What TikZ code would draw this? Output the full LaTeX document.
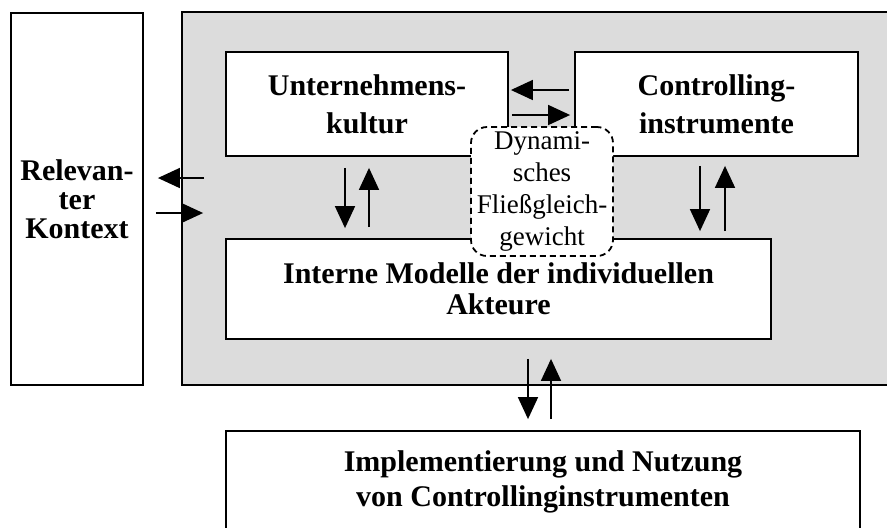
\documentclass[tikz,border=0pt]{standalone}
\usepackage{fontspec}
\setmainfont{Liberation Serif}
\usetikzlibrary{arrows.meta}
\definecolor{boxgray}{RGB}{220,220,220}

\begin{document}
\begin{tikzpicture}[x=0.5pt,y=-0.5pt]
\tikzset{box/.style = {draw,line width=0.9pt,fill=white,inner sep=0pt,align=center,font=\bfseries\fontsize{15}{19}\selectfont}}
\tikzset{balance/.style = {draw,dash pattern=on 3pt off 2pt,line width=0.9pt,fill=white,rounded corners=8pt,inner sep=0pt,align=center,font=\fontsize{13.5}{16}\selectfont}}
\tikzset{arr/.style = {-{Triangle[length=11pt,width=10pt]},line width=0.8pt}}
\useasboundingbox (0,0) rectangle (887,527);
\clip (0,0) rectangle (887,527);
\node[box,fill=boxgray,minimum width=359pt,minimum height=186.5pt](system) at (541,198.5) {};
\node[box,minimum width=66pt,minimum height=186pt,font=\bfseries\fontsize{15}{14.5}\selectfont](kontext) at (77,199) {Relevan-\\ter\\Kontext};
\node[box,minimum width=141pt,minimum height=52pt](kultur) at (367,104) {Unternehmens-\\kultur};
\node[box,minimum width=141.5pt,minimum height=52pt](ctrl) at (716.5,104) {Controlling-\\instrumente};
\node[box,minimum width=272.5pt,minimum height=50pt,font=\bfseries\fontsize{15}{15.5}\selectfont](modelle) at (498.5,289) {Interne Modelle der individuellen\\Akteure};
\node[box,minimum width=317pt,minimum height=51pt,font=\bfseries\fontsize{15}{17.5}\selectfont](impl) at (543,482) {Implementierung und Nutzung\\von Controllinginstrumenten};
\node[balance,minimum width=71pt,minimum height=64.5pt](gleich) at (542,191.5) {Dynami-\\sches\\Fließgleich-\\gewicht};
\draw[arr,shorten <=-11.5pt,shorten >=7pt] ([yshift=10.25pt]system.west) -- ([yshift=10.25pt]system.west -| kontext.east);
\draw[arr,shorten <=6pt,shorten >=-11pt] ([yshift=-7.25pt]system.west -| kontext.east) -- ([yshift=-7.25pt]system.west);
\draw[arr,shorten <=2.5pt,shorten >=1pt] ([yshift=7pt]ctrl.west) -- ([yshift=7pt]ctrl.west -| kultur.east);
\draw[arr,shorten <=1.5pt,shorten >=2pt] ([yshift=-5.5pt]ctrl.west -| kultur.east) -- ([yshift=-5.5pt]ctrl.west);
\draw[arr,shorten <=5.5pt,shorten >=5pt] ([xshift=-11pt]kultur.south) -- ([xshift=-11pt]kultur.south |- modelle.north);
\draw[arr,shorten <=5.5pt,shorten >=5.5pt] ([xshift=1pt]kultur.south |- modelle.north) -- ([xshift=1pt]kultur.south);
\draw[arr,shorten <=4.5pt,shorten >=3.5pt] ([xshift=-8.25pt]ctrl.south) -- ([xshift=-8.25pt]ctrl.south |- modelle.north);
\draw[arr,shorten <=3.5pt,shorten >=4.5pt] ([xshift=4.25pt]ctrl.south |- modelle.north) -- ([xshift=4.25pt]ctrl.south);
\draw[arr,shorten <=9.5pt,shorten >=5.5pt] ([xshift=-7.5pt]impl.north |- modelle.south) -- ([xshift=-7.5pt]impl.north);
\draw[arr,shorten <=5.5pt,shorten >=9.5pt] ([xshift=4pt]impl.north) -- ([xshift=4pt]impl.north |- modelle.south);
\end{tikzpicture}
\end{document}
